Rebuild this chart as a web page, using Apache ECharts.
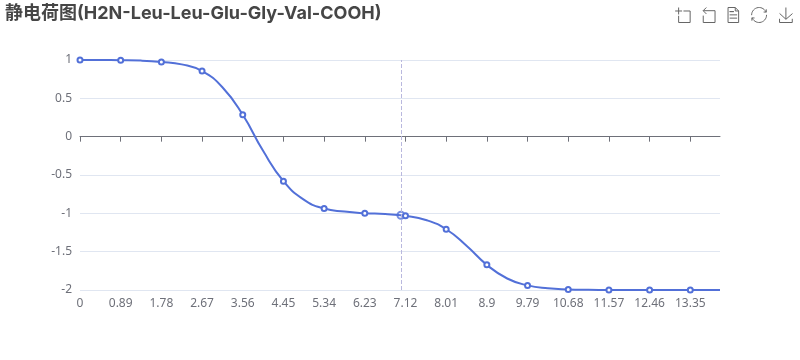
<!DOCTYPE html>
<html><head><meta charset="utf-8">
<style>html,body{margin:0;padding:0;background:#fff}#c{width:800px;height:360px}</style>
<script src="https://cdn.jsdelivr.net/npm/echarts@6/dist/echarts.min.js"></script>
</head><body><div id="c"></div>
<script>
const titleText = '静电荷图(H2N-Leu-Leu-Glu-Gly-Val-COOH)';
const pH = [0,0.89,1.78,2.67,3.56,4.45,5.34,6.23,7.12,8.01,8.9,9.79,10.68,11.57,12.46,13.35];
const charge = [1,0.997,0.975,0.855,0.285,-0.58,-0.938,-0.998,-1.033,-1.208,-1.672,-1.94,-1.992,-1.999,-2,-2];
const midPH = [0.445,1.335,2.225,3.115,4.005,4.895,5.785,6.675,7.565,8.455,9.345,10.235,11.125,14];
const midCharge = [0.999,0.992,0.943,0.645,-0.185,-0.822,-0.977,-1.009,-1.086,-1.423,-1.85,-1.978,-1.997,-2];
const hoverPH = 7.02, hoverCharge = -1.025;
const font = '"Inter","Noto Sans CJK SC",sans-serif';
const labelFont = '"Noto Sans","Noto Sans CJK SC",sans-serif';
const linePts = pH.map((x,i)=>[x,charge[i]]).concat(midPH.map((x,i)=>({value:[x,midCharge[i]],symbol:'none'})))
  .sort((a,b)=>(a.value||a)[0]-(b.value||b)[0]);
const chart = echarts.init(document.getElementById('c'));
chart.setOption({
  animation:false,
  title:{text:titleText,left:0,top:0,textStyle:{fontSize:18,fontWeight:'bold',color:'#464646',fontFamily:font}},
  toolbox:{show:true,right:-10,top:-10,itemSize:15,itemGap:8,iconStyle:{borderColor:'#666'},feature:{dataZoom:{},dataView:{},restore:{},saveAsImage:{}}},
  grid:{left:80,right:80,top:60,bottom:70,outerBoundsMode:'none'},
  xAxis:[{type:'value',min:0,max:14,interval:0.89,splitLine:{show:false},
    axisLine:{show:true,onZero:true,lineStyle:{color:'#6E7079'}},
    axisTick:{show:true,customValues:pH,lineStyle:{color:'#6E7079'}},
    axisLabel:{show:false},
    axisPointer:{show:true,status:'show',value:hoverPH,type:'line',label:{show:false},lineStyle:{color:'#B9B8DE',type:'dashed',width:1}}},
   {type:'value',position:'bottom',min:0,max:14,interval:0.89,splitLine:{show:false},
    axisLine:{show:false,onZero:false},axisTick:{show:false},
    axisLabel:{show:true,margin:8,showMaxLabel:false,color:'#6E7079',fontSize:12,fontFamily:labelFont}}],
  yAxis:{type:'value',min:-2,max:1,interval:0.5,
    axisLine:{show:false},axisTick:{show:false},
    axisLabel:{color:'#6E7079',fontSize:12,fontFamily:labelFont,margin:8},
    splitLine:{lineStyle:{color:'#E0E6F1'}}},
  series:[
    {type:'line',smooth:true,data:linePts,symbol:'circle',symbolSize:5,showSymbol:true,showAllSymbol:true,
     lineStyle:{color:'#5270D8',width:2},
     itemStyle:{color:'#fff',borderColor:'#5270D8',borderWidth:2},silent:true},
    {type:'scatter',data:[[hoverPH,hoverCharge]],symbol:'circle',symbolSize:7,
     itemStyle:{color:'#fff',borderColor:'#5270D8',borderWidth:2},silent:true}
  ]
});
</script></body></html>
